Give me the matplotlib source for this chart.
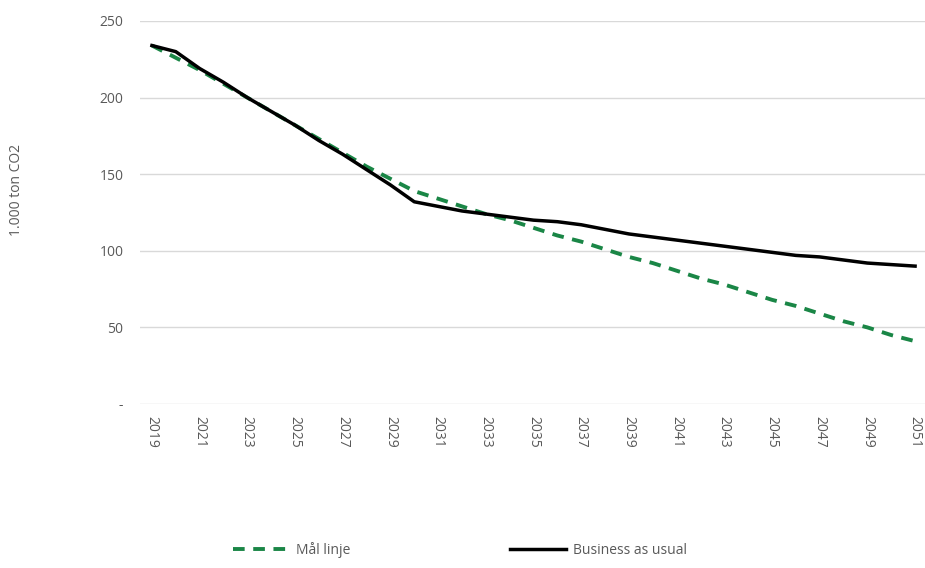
import matplotlib.pyplot as plt
from matplotlib.ticker import FixedLocator

plt.rcParams['font.family'] = ['Open Sans', 'DejaVu Sans']

# Emissions per year, in 1.000 ton CO2
years = list(range(2019, 2052))
maal_linje = [234, 226, 218, 209, 200, 191, 182, 173, 164, 155, 147, 139,
              134, 129, 124, 120, 115, 110, 106, 101, 96, 92, 87, 82, 78,
              73, 68, 64, 59, 54, 50, 45, 41]
business_as_usual = [234, 230, 219, 210, 200, 191, 182, 172, 163, 153, 143,
                     132, 129, 126, 124, 122, 120, 119, 117, 114, 111, 109,
                     107, 105, 103, 101, 99, 97, 96, 94, 92, 91, 90]
y_ticks = [0, 50, 100, 150, 200, 250]
y_tick_labels = ['-', '50', '100', '150', '200', '250']

text_color = '#595959'
green = '#1a8646'

fig = plt.figure(figsize=(9.25, 5.68), dpi=100)
ax = fig.add_axes([140 / 925, 164 / 568, 787 / 925, 383 / 568])

ax.plot(years, maal_linje, color=green, lw=2.8, ls=(0, (3, 2.2)),
        label='Mål linje', zorder=3)
ax.plot(years, business_as_usual, color='black', lw=2.5,
        label='Business as usual', zorder=4)

ax.set_xlim(2018.5, 2051.5)
ax.set_ylim(0, 250)
ax.yaxis.set_major_locator(FixedLocator(y_ticks))
ax.set_yticklabels(y_tick_labels)
ax.set_xticks(years[::2])
ax.set_xticklabels([str(y) for y in years[::2]], rotation=270)

ax.grid(axis='y', color='#d9d9d9', lw=1)
ax.set_axisbelow(True)
for side in ['top', 'right', 'left', 'bottom']:
    ax.spines[side].set_visible(False)
ax.tick_params(axis='both', length=0, labelsize=10, labelcolor=text_color)
ax.tick_params(axis='y', pad=12)
ax.tick_params(axis='x', pad=9)

fig.text(17 / 925, (568 - 190) / 568, '1.000 ton CO2', rotation=90,
         ha='center', va='center', fontsize=10, color=text_color)

fig.legend(loc='center', bbox_to_anchor=(460 / 925, (568 - 550) / 568),
           ncol=2, frameon=False, fontsize=10, labelcolor=text_color,
           handlelength=4.0, handletextpad=0.5, columnspacing=11.5)

fig.savefig('out.png', dpi=100)
